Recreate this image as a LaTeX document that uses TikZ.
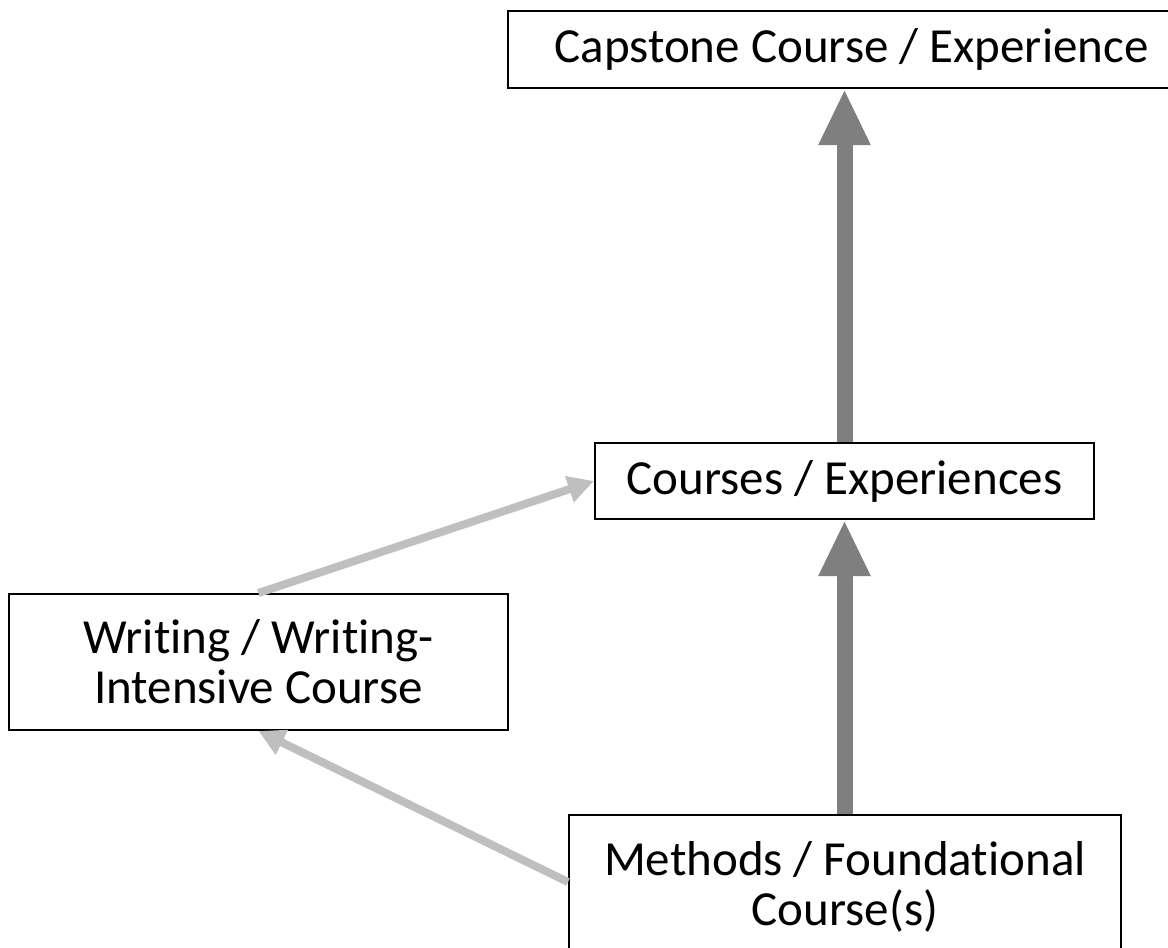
\documentclass[tikz,border=0pt]{standalone}
\usepackage{fontspec}
\setmainfont{Carlito}[Ligatures={NoCommon}]
\usetikzlibrary{arrows.meta}
\definecolor{darkarrow}{HTML}{7F7F7F}
\definecolor{lightarrow}{HTML}{BFBFBF}
\tikzset{
  box/.style={draw=black, line width=1pt, fill=white, inner sep=0pt, align=center,
    font=\fontsize{24.5pt}{25pt}\selectfont},
  mainarrow/.style={draw=darkarrow, line width=8pt,
    -{Triangle[width=24pt,length=28pt]}},
  sidearrow/.style={draw=lightarrow, line width=4pt,
    -{Triangle[width=13pt,length=13pt]}}
}
\begin{document}
\begin{tikzpicture}[x=0.5pt,y=-0.5pt]
\clip (0,0) rectangle (1168,948);
\fill[white] (0,0) rectangle (1168,948);
\node[box, minimum width=343.5pt, minimum height=38.5pt] (cap) at (851.5,49.5) {Capstone Course / Experience};
\node[box, minimum width=249.5pt, minimum height=38pt] (crs) at (844.5,481) {Courses / Experiences};
\node[box, minimum width=249.5pt, minimum height=68pt] (wri) at (258.5,662) {Writing / Writing-\\Intensive Course};
\node[box, minimum width=276pt, minimum height=72pt] (met) at (845,887) {Methods / Foundational\\Course(s)};
\draw[mainarrow] (met.north -| crs.south) -- (crs.south);
\draw[mainarrow] (crs.north) -- (crs.north |- cap.south);
\draw[sidearrow] (wri.north) -- (crs.west);
\draw[sidearrow] ([yshift=2.5pt]met.west) -- (wri.south);
\end{tikzpicture}
\end{document}
